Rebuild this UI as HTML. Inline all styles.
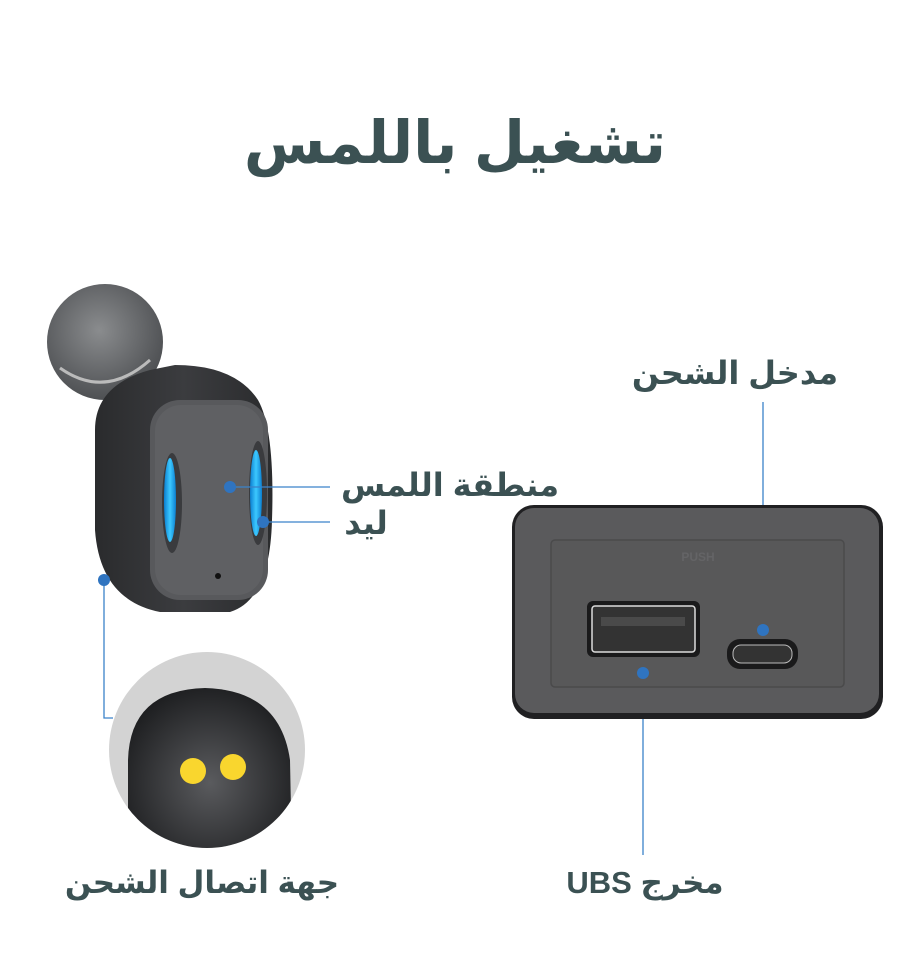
<!DOCTYPE html>
<html><head><meta charset="utf-8"><style>
html,body{margin:0;padding:0;background:#fff;}
svg{display:block}
text{font-family:"Liberation Sans","DejaVu Sans",sans-serif;font-weight:bold;fill:#3b5153;}
</style></head><body>
<svg width="912" height="957" viewBox="0 0 912 957" xmlns="http://www.w3.org/2000/svg">
<defs>
<radialGradient id="tip" cx="0.45" cy="0.4" r="0.6"><stop offset="0" stop-color="#8a8c8e"/><stop offset="1" stop-color="#4e5053"/></radialGradient>
<linearGradient id="body" x1="0" y1="0" x2="1" y2="0"><stop offset="0" stop-color="#2a2b2d"/><stop offset="0.5" stop-color="#3b3c3f"/><stop offset="1" stop-color="#2a2b2d"/></linearGradient>
<linearGradient id="led" x1="0" y1="0" x2="1" y2="0"><stop offset="0" stop-color="#0b7fd0"/><stop offset="0.5" stop-color="#3cc8ff"/><stop offset="1" stop-color="#0b7fd0"/></linearGradient>
<radialGradient id="cap" cx="0.5" cy="0.55" r="0.6"><stop offset="0" stop-color="#5a5b5e"/><stop offset="1" stop-color="#1b1c1e"/></radialGradient>
<clipPath id="cc"><circle cx="207" cy="750" r="98"/></clipPath>
</defs>
<text x="455" y="163" font-size="59" text-anchor="middle">تشغيل باللمس</text>

<!-- earbud -->
<circle cx="105" cy="342" r="58" fill="url(#tip)"/>
<path d="M60 368 Q105 400 150 360" stroke="#bbb" stroke-width="3" fill="none"/>
<path d="M95 430 Q95 385 150 370 L175 365 Q235 365 258 400 Q275 430 272 520 Q270 600 230 612 L160 612 Q100 600 95 530 Z" fill="url(#body)"/>
<rect x="150" y="400" width="118" height="200" rx="30" fill="#58595c"/>
<rect x="155" y="405" width="108" height="190" rx="26" fill="#5f6063"/>
<ellipse cx="172" cy="503" rx="10" ry="50" fill="#3a3b3e"/>
<ellipse cx="170" cy="500" rx="6" ry="42" fill="url(#led)"/>
<ellipse cx="258" cy="493" rx="9" ry="52" fill="#3a3b3e"/>
<ellipse cx="256" cy="493" rx="6" ry="43" fill="url(#led)"/>
<circle cx="218" cy="576" r="3" fill="#111"/>

<!-- lines -->
<g stroke="#3b82c9" stroke-width="1.3" fill="none">
<line x1="230" y1="487" x2="330" y2="487"/>
<line x1="263" y1="522" x2="330" y2="522"/>
<polyline points="104,580 104,718 113,718"/>
<line x1="763" y1="402" x2="763" y2="630"/>
<line x1="643" y1="673" x2="643" y2="855"/>
</g>
<g fill="#2f74c0">
<circle cx="230" cy="487" r="6"/><circle cx="263" cy="522" r="6"/><circle cx="104" cy="580" r="6"/>
</g>

<!-- circle detail -->
<circle cx="207" cy="750" r="98" fill="#d3d3d3"/>
<g clip-path="url(#cc)">
<path d="M128 860 L128 760 Q130 690 205 688 Q280 690 290 760 L292 860 Z" fill="url(#cap)"/>
<circle cx="193" cy="771" r="13" fill="#f9d62e"/>
<circle cx="233" cy="767" r="13" fill="#f9d62e"/>
</g>

<!-- power bank -->
<rect x="512" y="505" width="371" height="214" rx="22" fill="#202022"/>
<rect x="515" y="508" width="364" height="205" rx="19" fill="#5a5a5c"/>
<rect x="551" y="540" width="293" height="147" rx="4" fill="#585859" stroke="#4a4a4b" stroke-width="1.5"/>
<text x="698" y="561" font-size="12" text-anchor="middle" style="fill:#646466">PUSH</text>
<rect x="587" y="601" width="113" height="56" rx="6" fill="#1a1a1b"/>
<rect x="592" y="606" width="103" height="46" rx="3" fill="#333" stroke="#ddd" stroke-width="1.5"/>
<rect x="601" y="617" width="84" height="9" fill="#4a4a4a"/>
<rect x="727" y="639" width="71" height="30" rx="13" fill="#1a1a1b"/>
<rect x="733" y="645" width="59" height="18" rx="8" fill="#333" stroke="#bbb" stroke-width="1"/>
<circle cx="763" cy="630" r="6" fill="#2f74c0"/>
<circle cx="643" cy="673" r="6" fill="#2f74c0"/>

<!-- labels -->
<text x="450" y="496" font-size="32" text-anchor="middle">منطقة اللمس</text>
<text x="366" y="534" font-size="32" text-anchor="middle">ليد</text>
<text x="735" y="384" font-size="32" text-anchor="middle">مدخل الشحن</text>
<text x="202" y="893" font-size="31" text-anchor="middle">جهة اتصال الشحن</text>
<text x="645" y="893" font-size="31" text-anchor="middle">UBS مخرج</text>
</svg>
</body></html>
